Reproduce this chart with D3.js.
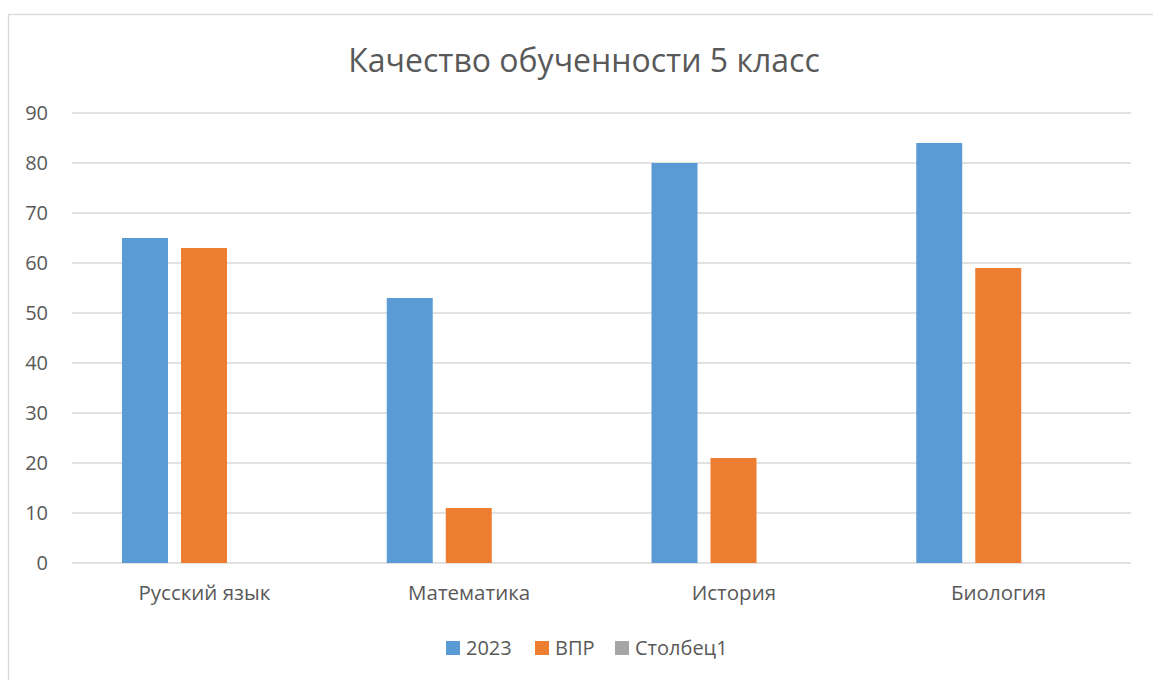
<!DOCTYPE html>
<html>
<head>
<meta charset="utf-8">
<script src="https://cdn.jsdelivr.net/npm/d3@7"></script>
<style>
  body { margin: 0; background: #fff; }
  svg text { font-family: "Open Sans", "Noto Sans", sans-serif; fill: #595959; }
</style>
</head>
<body>
<svg id="svg" width="1153" height="680"></svg>
<script>
// data
var categories = ["Русский язык", "Математика", "История", "Биология"];
var seriesNames = ["2023", "ВПР", "Столбец1"];
var values2023 = [65, 53, 80, 84];
var valuesVpr = [63, 11, 21, 59];
var valuesCol1 = [null, null, null, null];
var yTicks = [0, 10, 20, 30, 40, 50, 60, 70, 80, 90];
var colors = ["#5B9BD5", "#ED7D31", "#A5A5A5"];

var allSeries = [values2023, valuesVpr, valuesCol1];

var svg = d3.select("#svg");

// chart frame
svg.append("rect")
    .attr("x", 8.5).attr("y", 14.5)
    .attr("width", 1170).attr("height", 700)
    .attr("fill", "#fff")
    .attr("stroke", "#D9D9D9")
    .attr("stroke-width", 1.3);

var plotLeft = 72, plotRight = 1131, plotTop = 113, plotBottom = 563;

var x0 = d3.scaleBand().domain(categories).range([plotLeft, plotRight]);
var x1 = d3.scaleBand().domain(seriesNames).range([50, 214]).paddingInner(13 / 59).paddingOuter(0);
var y = d3.scaleLinear().domain([0, 90]).range([plotBottom, plotTop]);

// gridlines
svg.append("g").selectAll("line")
    .data(yTicks)
    .enter()
    .append("line")
    .attr("x1", plotLeft).attr("x2", plotRight)
    .attr("y1", function(d) { return y(d); })
    .attr("y2", function(d) { return y(d); })
    .attr("stroke", "#D9D9D9")
    .attr("stroke-width", 1.3);

// y axis labels
var yAxis = d3.axisLeft(y).tickValues(yTicks).tickSize(0).tickPadding(0);
var gy = svg.append("g")
    .attr("transform", "translate(48,0)")
    .call(yAxis);
gy.select(".domain").remove();
gy.selectAll("text")
    .attr("font-size", "20px")
    .attr("fill", "#595959")
    .style("font-family", "'Open Sans', sans-serif");

// bars
var groups = svg.append("g").selectAll("g")
    .data(categories)
    .enter()
    .append("g")
    .attr("transform", function(d) { return "translate(" + x0(d) + ",0)"; });

groups.selectAll("rect")
    .data(function(d, i) {
        return allSeries.map(function(s, j) {
            return { name: seriesNames[j], value: s[i], color: colors[j] };
        }).filter(function(e) { return e.value != null; });
    })
    .enter()
    .append("rect")
    .attr("x", function(d) { return x1(d.name); })
    .attr("width", x1.bandwidth())
    .attr("y", function(d) { return y(d.value); })
    .attr("height", function(d) { return y(0) - y(d.value); })
    .attr("fill", function(d) { return d.color; });

// x axis labels
var xAxis = d3.axisBottom(x0).tickSize(0).tickPadding(0);
var gx = svg.append("g")
    .attr("transform", "translate(0," + plotBottom + ")")
    .call(xAxis);
gx.select(".domain").remove();
gx.selectAll("text")
    .attr("dy", null)
    .attr("y", 37)
    .attr("font-size", "20.5px")
    .attr("fill", "#595959")
    .style("font-family", "'Open Sans', sans-serif");

// title
svg.append("text")
    .text("Качество обученности 5 класс")
    .attr("x", 584)
    .attr("y", 72)
    .attr("text-anchor", "middle")
    .attr("font-size", "32px");

// legend
var legendX = [446, 535, 615];
var legend = svg.append("g").selectAll("g")
    .data(seriesNames)
    .enter()
    .append("g")
    .attr("transform", function(d, i) { return "translate(" + legendX[i] + ",641)"; });
legend.append("rect")
    .attr("width", 14).attr("height", 14)
    .attr("fill", function(d, i) { return colors[i]; });
legend.append("text")
    .text(function(d) { return d; })
    .attr("x", 20)
    .attr("y", 14)
    .attr("font-size", "20px");
</script>
</body>
</html>
